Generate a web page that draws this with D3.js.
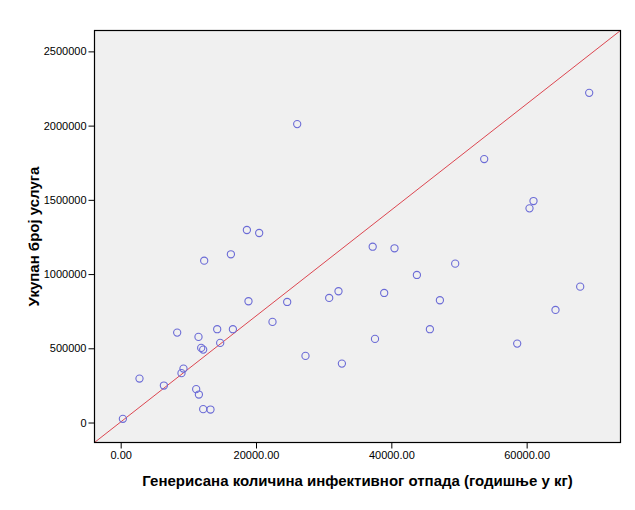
<!DOCTYPE html>
<html>
<head>
<meta charset="utf-8">
<script src="https://cdn.jsdelivr.net/npm/d3@7"></script>
<style>
  html, body { margin: 0; padding: 0; background: #ffffff; }
  svg { display: block; }
</style>
</head>
<body>
<svg id="chart" width="635" height="510"></svg>
<script>
// Data
const xValues = [325, 2779, 6385, 8351, 8986, 9282, 11159, 11499, 11558, 11898, 12194, 12341, 12194, 13272,
  14263, 14706, 16288, 16583, 18652, 18888, 20470, 22436, 24608, 26087, 27313, 30816, 32191, 32693,
  37246, 37586, 38945, 40468, 43778, 45700, 47178, 49439, 53725, 58602, 60420, 61011, 64263, 67913, 69243];
const yValues = [24900, 296100, 249000, 605700, 332400, 363400, 224800, 576700, 188400, 502700, 491300, 1090200, 90200, 87500,
  628500, 536300, 1133300, 628500, 1296800, 817000, 1276600, 677700, 812200, 2010100, 448900, 839200, 884300, 397000,
  1184400, 563300, 872800, 1173600, 994000, 628500, 823700, 1070000, 1774600, 531600, 1442800, 1491900, 758400, 915200, 2220700];
const xTicks = [0, 20000, 40000, 60000];
const yTicks = [0, 500000, 1000000, 1500000, 2000000, 2500000];
const xDomain = [-3870, 73870];
const yDomain = [-134600, 2640700];
const refSlope = 35.7;
const refIntercept = 3600;
const xTitle = "Генерисана количина инфективног отпада (годишње у кг)";
const yTitle = "Укупан број услуга";

const points = xValues.map((x, i) => ({ x, y: yValues[i] }));

const svg = d3.select("#chart");
const plot = { left: 94.5, top: 30.5, right: 620.5, bottom: 442.5 };

const x = d3.scaleLinear().domain(xDomain).range([plot.left, plot.right]);
const y = d3.scaleLinear().domain(yDomain).range([plot.bottom, plot.top]);

svg.append("rect")
  .attr("x", plot.left).attr("y", plot.top)
  .attr("width", plot.right - plot.left).attr("height", plot.bottom - plot.top)
  .attr("fill", "#f0f0f0");

svg.append("clipPath").attr("id", "clip")
  .append("rect")
  .attr("x", plot.left).attr("y", plot.top)
  .attr("width", plot.right - plot.left).attr("height", plot.bottom - plot.top);

// reference / fit line
const lineData = xDomain.map(v => ({ x: v, y: refSlope * v + refIntercept }));
svg.append("path")
  .datum(lineData)
  .attr("clip-path", "url(#clip)")
  .attr("fill", "none")
  .attr("stroke", "#dc4650")
  .attr("stroke-width", 1)
  .attr("d", d3.line().x(d => x(d.x)).y(d => y(d.y)));

// points
svg.append("g")
  .selectAll("circle")
  .data(points)
  .join("circle")
  .attr("cx", d => x(d.x))
  .attr("cy", d => y(d.y))
  .attr("r", 3.6)
  .attr("fill", "none")
  .attr("stroke", "#6b6bd6")
  .attr("stroke-width", 1.1);

// frame
svg.append("rect")
  .attr("x", plot.left).attr("y", plot.top)
  .attr("width", plot.right - plot.left).attr("height", plot.bottom - plot.top)
  .attr("fill", "none").attr("stroke", "#000").attr("stroke-width", 1.2);

// axes
const fontFam = "'Liberation Sans', Arial, sans-serif";
const xAxis = d3.axisBottom(x).tickValues(xTicks).tickSize(6).tickPadding(3)
  .tickFormat(d3.format(".2f")).tickSizeOuter(0);
const gx = svg.append("g").attr("transform", `translate(0,${plot.bottom})`).call(xAxis);
gx.select(".domain").remove();
gx.selectAll("line").attr("stroke", "#000");
gx.selectAll("text").attr("font-family", fontFam).attr("font-size", 11).attr("fill", "#000");

const yAxis = d3.axisLeft(y).tickValues(yTicks).tickSize(6).tickPadding(2)
  .tickFormat(d3.format("d")).tickSizeOuter(0);
const gy = svg.append("g").attr("transform", `translate(${plot.left},0)`).call(yAxis);
gy.select(".domain").remove();
gy.selectAll("line").attr("stroke", "#000");
gy.selectAll("text").attr("font-family", fontFam).attr("font-size", 11).attr("fill", "#000");

// titles
svg.append("text")
  .attr("x", (plot.left + plot.right) / 2)
  .attr("y", 485.5)
  .attr("text-anchor", "middle")
  .attr("font-family", fontFam).attr("font-weight", "bold").attr("font-size", 15)
  .text(xTitle);

svg.append("text")
  .attr("transform", `translate(38.5,${(plot.top + plot.bottom) / 2}) rotate(-90)`)
  .attr("text-anchor", "middle")
  .attr("font-family", fontFam).attr("font-weight", "bold").attr("font-size", 15)
  .text(yTitle);
</script>
</body>
</html>
